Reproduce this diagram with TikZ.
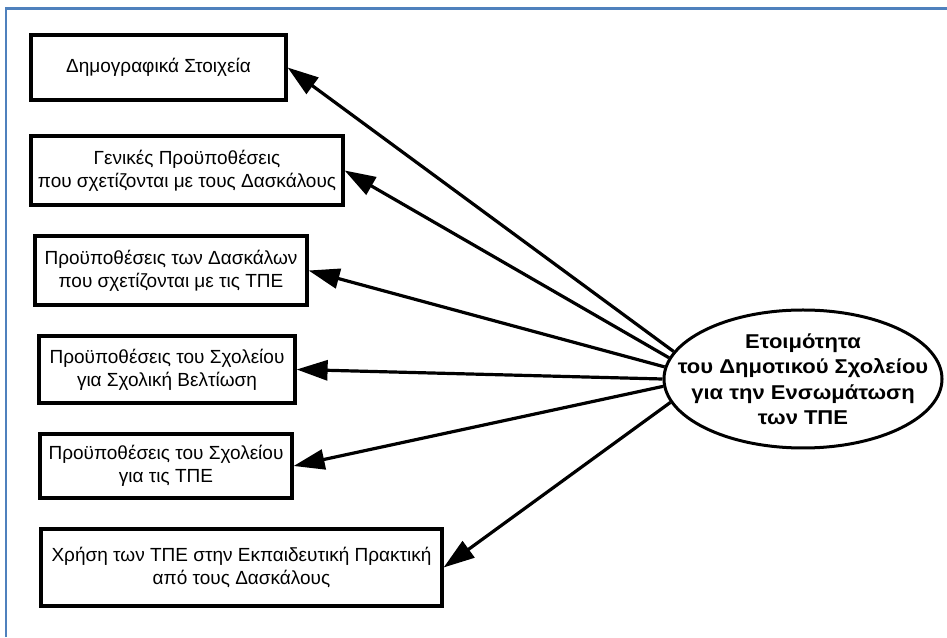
\documentclass[tikz,border=0pt]{standalone}
\usepackage{fontspec}
\setmainfont{Liberation Sans}
% slightly widened bold face for the central title
\newfontfamily\titlefont[FakeStretch=1.1]{Liberation Sans}
\usetikzlibrary{arrows.meta,shapes.geometric}
\definecolor{frameblue}{RGB}{79,129,189}

\begin{document}
\begin{tikzpicture}[x=1pt,y=1pt,
  factor/.style={draw, line width=3.2pt, inner sep=0pt, align=center,
    font=\fontsize{19}{23}\selectfont},
  core/.style={ellipse, draw, line width=3pt, inner sep=0pt,
    minimum width=278pt, minimum height=138pt},
  coretext/.style={inner sep=0pt, align=center,
    font=\titlefont\bfseries\fontsize{20}{25.5}\selectfont},
  link/.style={line width=3.2pt, -{Triangle[length=31pt,width=20pt]}},
  frame/.style={draw=frameblue, line width=2.8pt}
]
\useasboundingbox (0,0) rectangle (947,637);

% open frame along the top and left edges
\draw[frame] (6,0) -- (6,628.5) -- (947,628.5);

% factor boxes
\node[factor, minimum width=255pt, minimum height=65pt] (demo) at (158.5,569.5)
  {Δημογραφικά Στοιχεία};
\node[factor, minimum width=312pt, minimum height=69pt] (gen) at (187,466.5)
  {Γενικές Προϋποθέσεις\\που σχετίζονται με τους Δασκάλους};
\node[factor, minimum width=272pt, minimum height=69pt] (tch) at (171,366.5)
  {Προϋποθέσεις των Δασκάλων\\που σχετίζονται με τις ΤΠΕ};
\node[factor, minimum width=256pt, minimum height=67pt] (imp) at (167,267.5)
  {Προϋποθέσεις του Σχολείου\\για Σχολική Βελτίωση};
\node[factor, minimum width=252pt, minimum height=64pt] (sch) at (166,171)
  {Προϋποθέσεις του Σχολείου\\για τις ΤΠΕ};
\node[factor, minimum width=401pt, minimum height=77pt] (use) at (241.5,69.5)
  {Χρήση των ΤΠΕ στην Εκπαιδευτική Πρακτική\\από τους Δασκάλους};

% central construct: the ellipse keeps its own size, the title sits on it
\node[core] (ready) at (803,258) {};
\node[coretext] (readytitle) at (ready.center)
  {Ετοιμότητα\\του Δημοτικού Σχολείου\\για την Ενσωμάτωση\\των ΤΠΕ};

% connectors
\draw[link] (ready.168.8) -- (demo.east);
\draw[link] (ready.171.2) -- (gen.east);
\draw[link] (ready.175.4) -- (tch.east);
\draw[link] (ready.180)   -- (imp.east);
\draw[link] (ready.183.3) -- (sch.east);
\draw[link] (ready.190.4) -- (use.east);
\end{tikzpicture}
\end{document}
